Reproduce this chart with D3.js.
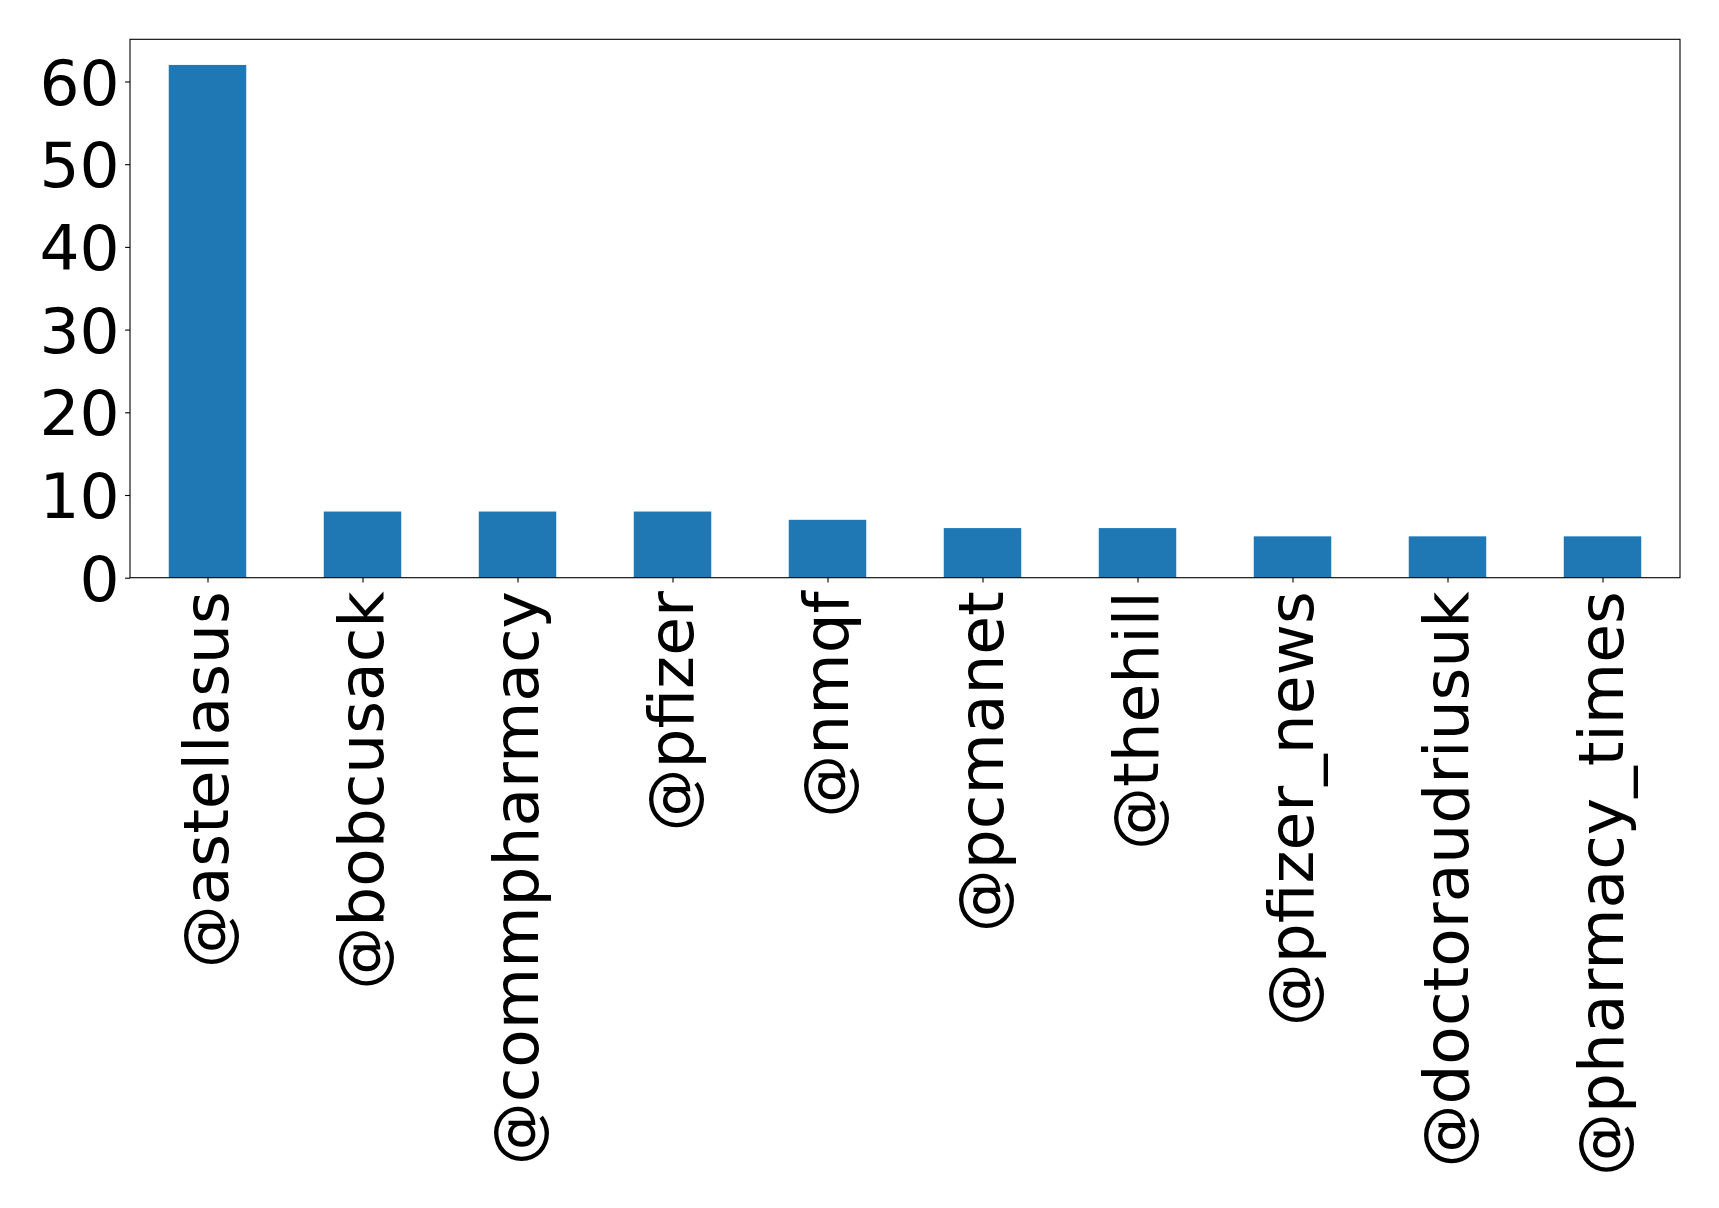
<!DOCTYPE html>
<html>
<head>
<meta charset="utf-8">
<script src="https://cdn.jsdelivr.net/npm/d3@7"></script>
<style>
  html, body { margin: 0; padding: 0; background: #fff; }
  svg { display: block; }
  text { font-family: "DejaVu Sans", sans-serif; fill: #000; }
</style>
</head>
<body>
<div id="chart"></div>
<script>
// Mention counts per account
const accounts = ["@astellasus", "@bobcusack", "@commpharmacy", "@pfizer", "@nmqf",
                  "@pcmanet", "@thehill", "@pfizer_news", "@doctoraudriusuk", "@pharmacy_times"];
const counts = [62, 8, 8, 8, 7, 6, 6, 5, 5, 5];
const yTicks = [0, 10, 20, 30, 40, 50, 60];

const W = 1719, H = 1208;
const margin = { left: 130, top: 39.3, right: W - 1680, bottom: H - 577.7 };
const fontPx = 63;

const svg = d3.select("#chart").append("svg")
  .attr("width", W).attr("height", H);

const plotW = W - margin.left - margin.right;
const plotH = H - margin.top - margin.bottom;

// Band positions: one unit per category, bars half a unit wide
const x = d3.scaleLinear().domain([-0.5, accounts.length - 0.5]).range([0, plotW]);
const y = d3.scaleLinear().domain([0, d3.max(counts) * 1.05]).range([plotH, 0]);

const g = svg.append("g").attr("transform", `translate(${margin.left},${margin.top})`);

const barW = x(0.25) - x(-0.25);
g.selectAll("rect.bar").data(counts).join("rect")
  .attr("class", "bar")
  .attr("x", (d, i) => x(i) - barW / 2)
  .attr("y", d => y(d))
  .attr("width", barW)
  .attr("height", d => y(0) - y(d))
  .attr("fill", "#1f77b4");

// Y axis
const yAxis = d3.axisLeft(y).tickValues(yTicks).tickSize(4.9).tickPadding(5.5).tickFormat(d3.format("d"));
const ya = g.append("g").call(yAxis);
ya.select(".domain").remove();
ya.selectAll("line").attr("stroke", "#000").attr("stroke-width", 1.1);
ya.selectAll("text").attr("font-size", fontPx).attr("font-family", "DejaVu Sans").attr("dy", "0.36em");

// X axis with vertical labels
const xAxis = d3.axisBottom(x).tickValues(d3.range(accounts.length)).tickSize(4.9).tickPadding(0)
  .tickFormat(i => accounts[i]);
const xa = g.append("g").attr("transform", `translate(0,${plotH})`).call(xAxis);
xa.select(".domain").remove();
xa.selectAll("line").attr("stroke", "#000").attr("stroke-width", 1.1);
xa.selectAll("text")
  .attr("font-size", fontPx)
  .attr("font-family", "DejaVu Sans")
  .attr("text-anchor", "end")
  .attr("x", 0).attr("y", 0)
  .attr("dy", "0.32em")
  .attr("transform", "translate(0,13.5) rotate(-90)");

// Frame
g.append("rect")
  .attr("x", 0).attr("y", 0).attr("width", plotW).attr("height", plotH)
  .attr("fill", "none").attr("stroke", "#000").attr("stroke-width", 1.1);
</script>
</body>
</html>
